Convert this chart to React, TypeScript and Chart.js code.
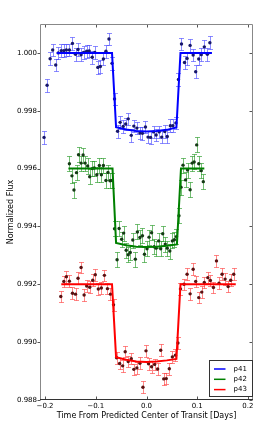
import React, { useEffect, useRef } from "react";
import { Chart, registerables } from "chart.js";

Chart.register(...registerables);

// ---------- data ----------
const xTicks = [-0.2, -0.1, 0.0, 0.1, 0.2];
const yTicks = [0.988, 0.99, 0.992, 0.994, 0.996, 0.998, 1.0];
const seriesNames = ["p41", "p42", "p43"];
const xLabel = "Time From Predicted Center of Transit [Days]";
const yLabel = "Normalized Flux";

const p41Time = [
  -0.202, -0.196, -0.19, -0.185, -0.179, -0.174, -0.168, -0.163, -0.158, -0.152,
  -0.146, -0.14, -0.135, -0.129, -0.124, -0.118, -0.113, -0.107, -0.102, -0.096,
  -0.091, -0.085, -0.08, -0.074, -0.068, -0.063, -0.057, -0.052, -0.046, -0.041,
  -0.036, -0.03, -0.025, -0.019, -0.013, -0.008, -0.002, 0.003, 0.008, 0.014,
  0.019, 0.025, 0.03, 0.036, 0.041, 0.047, 0.052, 0.058, 0.063, 0.069,
  0.075, 0.08, 0.086, 0.092, 0.097, 0.103, 0.108, 0.114, 0.12, 0.125,
];
const p41Flux = [
  0.99708, 0.99888, 0.9998, 1.0001, 0.99958, 1.0, 1.00008, 1.00008, 1.0001, 1.0001,
  1.00033, 0.99995, 1.00012, 0.99994, 1.00002, 1.00006, 1.00007, 0.99985, 1.00002, 0.9995,
  0.99953, 0.99979, 1.00006, 1.00048, 0.99964, 0.99841, 0.99729, 0.9976, 0.99746, 0.99754,
  0.99772, 0.99715, 0.99747, 0.9974, 0.99723, 0.99722, 0.99744, 0.99709, 0.99708, 0.99727,
  0.99716, 0.99727, 0.99709, 0.99728, 0.99711, 0.99748, 0.99748, 0.99758, 0.99908, 1.00031,
  0.99967, 0.99981, 1.00026, 0.99993, 0.99935, 0.99979, 0.99994, 1.00021, 0.99995, 1.00035,
];
const p41Err = 0.00022;
const p41ModelTime = [-0.177, -0.068, -0.06, -0.04, -0.02, 0.0, 0.02, 0.04, 0.059, 0.067, 0.129];
const p41ModelFlux = [1.0, 1.0, 0.99743, 0.99735, 0.9973, 0.99728, 0.9973, 0.99734, 0.99742, 1.0, 1.0];

const p42Time = [
  -0.152, -0.147, -0.143, -0.138, -0.134, -0.129, -0.125, -0.121, -0.116, -0.112,
  -0.107, -0.103, -0.098, -0.093, -0.089, -0.085, -0.08, -0.076, -0.072, -0.068,
  -0.063, -0.058, -0.054, -0.049, -0.045, -0.04, -0.036, -0.032, -0.027, -0.022,
  -0.018, -0.013, -0.008, -0.004, 0.001, 0.005, 0.01, 0.015, 0.019, 0.024,
  0.028, 0.032, 0.037, 0.041, 0.046, 0.051, 0.055, 0.059, 0.064, 0.068,
  0.072, 0.077, 0.081, 0.086, 0.09, 0.094, 0.099, 0.103, 0.108, 0.112,
];
const p42Flux = [
  0.99617, 0.99575, 0.99526, 0.99586, 0.99648, 0.99619, 0.99647, 0.99619, 0.99609, 0.99572,
  0.996, 0.99602, 0.99579, 0.99611, 0.99579, 0.99611, 0.99559, 0.99587, 0.99558, 0.99559,
  0.99392, 0.99285, 0.99393, 0.99356, 0.99377, 0.99318, 0.99302, 0.9931, 0.99353, 0.99287,
  0.99381, 0.99362, 0.99368, 0.99304, 0.99323, 0.99363, 0.99378, 0.9933, 0.99325, 0.9935,
  0.99323, 0.99375, 0.99339, 0.99325, 0.99315, 0.9935, 0.99354, 0.99365, 0.99437, 0.99536,
  0.99612, 0.99561, 0.99595, 0.99527, 0.99619, 0.99623, 0.99682, 0.99617, 0.99593, 0.99555,
];
const p42Err = 0.00026;
const p42ModelTime = [-0.154, -0.067, -0.06, -0.04, -0.02, 0.0, 0.02, 0.04, 0.06, 0.068, 0.114];
const p42ModelFlux = [0.996, 0.996, 0.99343, 0.99335, 0.9933, 0.99329, 0.9933, 0.99333, 0.99338, 0.996, 0.996];

const p43Time = [
  -0.169, -0.163, -0.158, -0.152, -0.146, -0.14, -0.135, -0.129, -0.123, -0.118,
  -0.112, -0.106, -0.101, -0.095, -0.089, -0.083, -0.077, -0.071, -0.065, -0.059,
  -0.053, -0.047, -0.042, -0.036, -0.03, -0.025, -0.019, -0.013, -0.007, -0.001,
  0.004, 0.01, 0.016, 0.022, 0.028, 0.034, 0.039, 0.045, 0.051, 0.057,
  0.062, 0.067, 0.074, 0.08, 0.086, 0.092, 0.097, 0.103, 0.109, 0.114,
  0.121, 0.126, 0.132, 0.138, 0.143, 0.149, 0.155, 0.161, 0.166, 0.172,
];
const p43Flux = [
  0.99158, 0.9921, 0.99226, 0.99211, 0.99169, 0.99166, 0.99221, 0.99258, 0.99163, 0.99194,
  0.9919, 0.99214, 0.99233, 0.99184, 0.99187, 0.99231, 0.99185, 0.99166, 0.99129, 0.98946,
  0.98926, 0.98918, 0.98967, 0.98933, 0.98943, 0.98906, 0.98911, 0.98927, 0.98844, 0.9897,
  0.98925, 0.98915, 0.98923, 0.98907, 0.98972, 0.98873, 0.98874, 0.98908, 0.98949, 0.98955,
  0.98997, 0.99184, 0.992, 0.99235, 0.99167, 0.99252, 0.9921, 0.99154, 0.99173, 0.99206,
  0.99223, 0.99213, 0.99189, 0.99281, 0.99204, 0.99235, 0.99218, 0.99192, 0.99214, 0.99235,
];
const p43Err = 0.0002;
const p43ModelTime = [-0.168, -0.068, -0.06, -0.04, -0.02, 0.0, 0.02, 0.04, 0.059, 0.067, 0.176];
const p43ModelFlux = [0.992, 0.992, 0.98948, 0.98939, 0.98933, 0.98931, 0.98933, 0.98937, 0.98942, 0.992, 0.992];

// ---------- styles ----------
const lineColors = ["#0000ff", "#008000", "#ff0000"];
const errColors = ["rgba(70,70,255,0.62)", "rgba(30,150,30,0.62)", "rgba(255,60,60,0.62)"];
const dotColors = ["#16166a", "#143a14", "#5a1010"];

const zip = (xs: number[], ys: number[]) => xs.map((x, i) => ({ x, y: ys[i] }));

const errorBarPlugin = {
  id: "errorBars",
  beforeDatasetsDraw(chart: any) {
    const { ctx, chartArea, scales } = chart;
    const xs = scales.x;
    const ys = scales.y;
    ctx.save();
    ctx.beginPath();
    ctx.rect(chartArea.left, chartArea.top, chartArea.right - chartArea.left, chartArea.bottom - chartArea.top);
    ctx.clip();
    chart.data.datasets.forEach((ds: any) => {
      if (!ds.errY) return;
      ctx.strokeStyle = ds.errColor;
      ctx.lineWidth = 1;
      ds.data.forEach((pt: any) => {
        const px = Math.round(xs.getPixelForValue(pt.x)) + 0.5;
        const y1 = Math.round(ys.getPixelForValue(pt.y + ds.errY)) + 0.5;
        const y2 = Math.round(ys.getPixelForValue(pt.y - ds.errY)) + 0.5;
        ctx.beginPath();
        ctx.moveTo(px, y1);
        ctx.lineTo(px, y2);
        ctx.moveTo(px - 2.5, y1);
        ctx.lineTo(px + 2.5, y1);
        ctx.moveTo(px - 2.5, y2);
        ctx.lineTo(px + 2.5, y2);
        ctx.stroke();
      });
    });
    ctx.restore();
  },
};

const framePlugin = {
  id: "frameTicksLegend",
  afterDraw(chart: any) {
    const { ctx, chartArea, scales } = chart;
    const xs = scales.x;
    const ys = scales.y;
    const L = chartArea.left + 0.5;
    const R = chartArea.right - 0.5;
    const T = chartArea.top + 0.5;
    const B = chartArea.bottom - 0.5;
    ctx.save();
    // tick marks
    ctx.strokeStyle = "#555";
    ctx.lineWidth = 1;
    ctx.beginPath();
    xTicks.forEach((v) => {
      const px = Math.round(xs.getPixelForValue(v)) + 0.5;
      ctx.moveTo(px, B);
      ctx.lineTo(px, B - 3);
      ctx.moveTo(px, T);
      ctx.lineTo(px, T + 3);
    });
    yTicks.forEach((v) => {
      const py = Math.round(ys.getPixelForValue(v)) + 0.5;
      ctx.moveTo(L - 3, py);
      ctx.lineTo(L, py);
      ctx.moveTo(R, py);
      ctx.lineTo(R - 3, py);
    });
    ctx.stroke();
    // frame
    ctx.strokeStyle = "#888";
    ctx.beginPath();
    ctx.moveTo(L, B);
    ctx.lineTo(L, T);
    ctx.lineTo(R, T);
    ctx.lineTo(R, B);
    ctx.stroke();
    ctx.strokeStyle = "#333";
    ctx.beginPath();
    ctx.moveTo(L - 0.5, B);
    ctx.lineTo(R + 0.5, B);
    ctx.stroke();

    // legend
    const models = chart.data.datasets.filter((d: any) => d.isModel);
    const bw = 43;
    const bh = 36;
    const bx = R - bw;
    const by = B - bh - 3;
    ctx.fillStyle = "#fff";
    ctx.fillRect(bx, by, bw, bh);
    ctx.strokeStyle = "#333";
    ctx.strokeRect(bx, by, bw, bh);
    ctx.font = "7px 'DejaVu Sans'";
    ctx.textBaseline = "middle";
    ctx.textAlign = "left";
    models.forEach((d: any, i: number) => {
      const cy = by + 8.5 + i * 10.3;
      ctx.strokeStyle = d.borderColor;
      ctx.lineWidth = 1.5;
      ctx.beginPath();
      ctx.moveTo(bx + 4.5, cy);
      ctx.lineTo(bx + 16, cy);
      ctx.stroke();
      ctx.fillStyle = "#000";
      ctx.fillText(d.label, bx + 24, cy);
    });
    ctx.restore();
  },
};

export default function App() {
  const canvasRef = useRef<HTMLCanvasElement | null>(null);

  useEffect(() => {
    if (!canvasRef.current) return;
    Chart.defaults.font.family = "'DejaVu Sans'";
    Chart.defaults.color = "#000";

    const times = [p41Time, p42Time, p43Time];
    const fluxes = [p41Flux, p42Flux, p43Flux];
    const errs = [p41Err, p42Err, p43Err];
    const mTimes = [p41ModelTime, p42ModelTime, p43ModelTime];
    const mFluxes = [p41ModelFlux, p42ModelFlux, p43ModelFlux];

    const datasets: any[] = [];
    seriesNames.forEach((name, i) => {
      datasets.push({
        type: "scatter",
        label: name,
        isModel: true,
        data: zip(mTimes[i], mFluxes[i]),
        showLine: true,
        borderColor: lineColors[i],
        backgroundColor: lineColors[i],
        borderWidth: 2,
        pointRadius: 0,
        tension: 0,
        order: 0,
      });
    });
    seriesNames.forEach((name, i) => {
      datasets.push({
        type: "scatter",
        label: name + " data",
        data: zip(times[i], fluxes[i]),
        errY: errs[i],
        errColor: errColors[i],
        showLine: false,
        pointRadius: 1.7,
        pointBorderWidth: 0,
        pointBackgroundColor: dotColors[i],
        pointBorderColor: dotColors[i],
        order: 1,
      });
    });

    const chart = new Chart(canvasRef.current, {
      type: "scatter",
      data: { datasets },
      options: {
        animation: false,
        responsive: false,
        maintainAspectRatio: false,
        devicePixelRatio: 1,
        layout: { padding: { left: 0, top: 24, right: 13, bottom: 0 } },
        plugins: {
          legend: { display: false },
          tooltip: { enabled: false },
        },
        scales: {
          x: {
            type: "linear",
            min: -0.21,
            max: 0.21,
            afterBuildTicks: (s: any) => {
              s.ticks = xTicks.map((v) => ({ value: v }));
            },
            afterFit: (s: any) => {
              s.height = 26;
            },
            ticks: {
              autoSkip: false,
              maxRotation: 0,
              padding: 2,
              font: { size: 7 },
              color: "#000",
              callback: (v: any) => Number(v).toFixed(1).replace("-", "\u2212"),
            },
            grid: { display: false, drawTicks: false },
            border: { display: false },
            title: {
              display: true,
              text: xLabel,
              color: "#000",
              font: { size: 8 },
              padding: { top: 0, bottom: 5 },
            },
          },
          y: {
            type: "linear",
            min: 0.988,
            max: 1.001,
            afterBuildTicks: (s: any) => {
              s.ticks = yTicks.map((v) => ({ value: v }));
            },
            afterFit: (s: any) => {
              s.width = 40;
            },
            ticks: {
              autoSkip: false,
              padding: 3,
              font: { size: 7 },
              color: "#000",
              callback: (v: any) => Number(v).toFixed(3),
            },
            grid: { display: false, drawTicks: false },
            border: { display: false },
            title: {
              display: true,
              text: yLabel,
              color: "#000",
              font: { size: 8 },
              padding: { top: 6, bottom: 0 },
            },
          },
        },
      },
      plugins: [errorBarPlugin, framePlugin],
    } as any);

    return () => chart.destroy();
  }, []);

  return (
    <canvas
      ref={canvasRef}
      width={266}
      height={426}
      style={{ position: "absolute", left: 0, top: 0, width: 266, height: 426, display: "block", background: "#fff" }}
    />
  );
}
